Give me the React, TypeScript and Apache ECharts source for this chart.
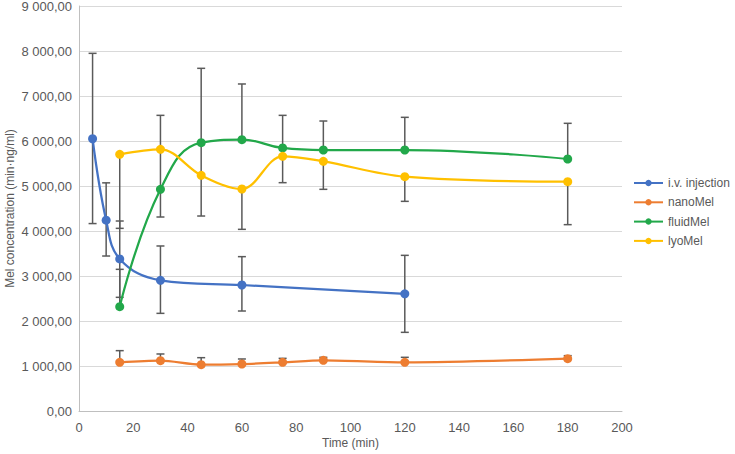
import React, { useEffect, useRef } from "react";
import * as echarts from "echarts";

const ivTimes = [5, 10, 15, 30, 60, 120];
const ivValues = [6050, 4240, 3380, 2905, 2800, 2605];
const ivHigh = [7948, 5070, 4222, 3667, 3430, 3459];
const ivLow = [4165, 3444, 2526, 2170, 2222, 1748];

const formTimes = [15, 30, 45, 60, 75, 90, 120, 180];

const nanoValues = [1082, 1119, 1030, 1044, 1082, 1126, 1082, 1163];
const nanoHigh = [1341, 1267, 1185, 1156, 1170, 1193, 1193, 1230];
const nanoLow: (number | null)[] = [null, null, null, null, null, null, null, null];

const fluidValues = [2318, 4926, 5963, 6030, 5845, 5800, 5800, 5600];
const fluidHigh: (number | null)[] = [3148, null, 7615, 7267, 6570, 6444, 6526, 6393];
const fluidLow: (number | null)[] = [null, null, 4333, null, null, null, null, null];

const lyoValues = [5704, 5815, 5237, 4933, 5660, 5548, 5207, 5096];
const lyoHigh: (number | null)[] = [null, 6570, null, null, null, null, null, null];
const lyoLow: (number | null)[] = [4059, 4311, null, 4037, 5074, 4926, 4659, 4141];

const seriesNames = ["i.v. injection", "nanoMel", "fluidMel", "lyoMel"];
const seriesColors = ["#4472C4", "#ED7D31", "#22A84A", "#FFC000"];

const yTicks = { min: 0, max: 9000, interval: 1000 };
const xTicks = { min: 0, max: 200, interval: 20 };

const FONT = "Liberation Sans, Arial, sans-serif";
const TEXT = "#595959";

function fmtY(v: number) {
  const s = Math.round(v).toString().replace(/\B(?=(\d{3})+(?!\d))/g, " ");
  return s + ",00";
}

function errData(times: number[], vals: number[], low: (number | null)[], high: (number | null)[]) {
  return times.map((t, i) => [
    t,
    vals[i],
    low[i] == null ? vals[i] : low[i],
    high[i] == null ? vals[i] : high[i],
    low[i] == null ? 0 : 1,
    high[i] == null ? 0 : 1,
  ]);
}

function errSeries(data: any[]) {
  return {
    type: "custom",
    silent: true,
    z: 1,
    encode: { x: 0, y: [2, 3] },
    data,
    renderItem: (params: any, api: any) => {
      const x = api.value(0);
      const lo = api.value(2);
      const hi = api.value(3);
      const hasLo = api.value(4) === 1;
      const hasHi = api.value(5) === 1;
      const pLo = api.coord([x, lo]);
      const pHi = api.coord([x, hi]);
      const cap = 4;
      const style = { stroke: "#5a5a5a", lineWidth: 1.5 };
      const children: any[] = [
        { type: "line", shape: { x1: pLo[0], y1: pLo[1], x2: pHi[0], y2: pHi[1] }, style },
      ];
      if (hasLo)
        children.push({ type: "line", shape: { x1: pLo[0] - cap, y1: pLo[1], x2: pLo[0] + cap, y2: pLo[1] }, style });
      if (hasHi)
        children.push({ type: "line", shape: { x1: pHi[0] - cap, y1: pHi[1], x2: pHi[0] + cap, y2: pHi[1] }, style });
      return { type: "group", children };
    },
  };
}

function lineSeries(name: string, color: string, times: number[], vals: number[], smooth: number) {
  return {
    name,
    type: "line",
    z: 3,
    smooth,
    symbol: "circle",
    symbolSize: 9,
    lineStyle: { color, width: 2.25 },
    itemStyle: { color },
    data: times.map((t, i) => [t, vals[i]]),
  };
}

export default function App() {
  const ref = useRef<HTMLDivElement>(null);
  useEffect(() => {
    if (!ref.current) return;
    const chart = echarts.init(ref.current, null, { renderer: "svg" });
    chart.setOption({
      animation: false,
      backgroundColor: "#ffffff",
      grid: { left: 79, right: 113, top: 6, bottom: 43, containLabel: false, outerBoundsMode: "none" },
      legend: {
        orient: "vertical",
        left: 628,
        top: 171,
        itemWidth: 29,
        itemHeight: 8,
        itemGap: 5.3,
        data: seriesNames,
        textStyle: { color: TEXT, fontSize: 12, fontFamily: FONT, lineHeight: 14 },
      },
      xAxis: {
        type: "value",
        min: xTicks.min,
        max: xTicks.max,
        interval: xTicks.interval,
        name: "Time (min)",
        nameLocation: "middle",
        nameGap: 26,
        nameMoveOverlap: false,
        nameTextStyle: { color: TEXT, fontSize: 12, fontFamily: FONT },
        axisLine: { show: true, lineStyle: { color: "#bfbfbf", width: 1 } },
        axisTick: { show: false },
        splitLine: { show: false },
        axisLabel: { color: TEXT, fontSize: 13, fontFamily: FONT, margin: 10 },
      },
      yAxis: {
        type: "value",
        min: yTicks.min,
        max: yTicks.max,
        interval: yTicks.interval,
        name: "Mel concentration (min·ng/ml)",
        nameLocation: "middle",
        nameGap: 63,
        nameMoveOverlap: false,
        nameTextStyle: { color: TEXT, fontSize: 12, fontFamily: FONT },
        axisLine: { show: true, lineStyle: { color: "#bfbfbf", width: 1 } },
        axisTick: { show: false },
        splitLine: { show: true, lineStyle: { color: "#d9d9d9", width: 1 } },
        axisLabel: { color: TEXT, fontSize: 13, fontFamily: FONT, margin: 7, formatter: fmtY },
      },
      series: [
        errSeries(errData(ivTimes, ivValues, ivLow, ivHigh)),
        errSeries(errData(formTimes, nanoValues, nanoLow, nanoHigh)),
        errSeries(errData(formTimes, fluidValues, fluidLow, fluidHigh)),
        errSeries(errData(formTimes, lyoValues, lyoLow, lyoHigh)),
        lineSeries(seriesNames[0], seriesColors[0], ivTimes, ivValues, 0.4),
        lineSeries(seriesNames[1], seriesColors[1], formTimes, nanoValues, 0.3),
        lineSeries(seriesNames[2], seriesColors[2], formTimes, fluidValues, 0.45),
        lineSeries(seriesNames[3], seriesColors[3], formTimes, lyoValues, 0.35),
      ],
    });
    return () => chart.dispose();
  }, []);
  return (
    <div
      ref={ref}
      style={{ position: "fixed", left: 0, top: 0, width: 735, height: 454, background: "#fff" }}
    />
  );
}
